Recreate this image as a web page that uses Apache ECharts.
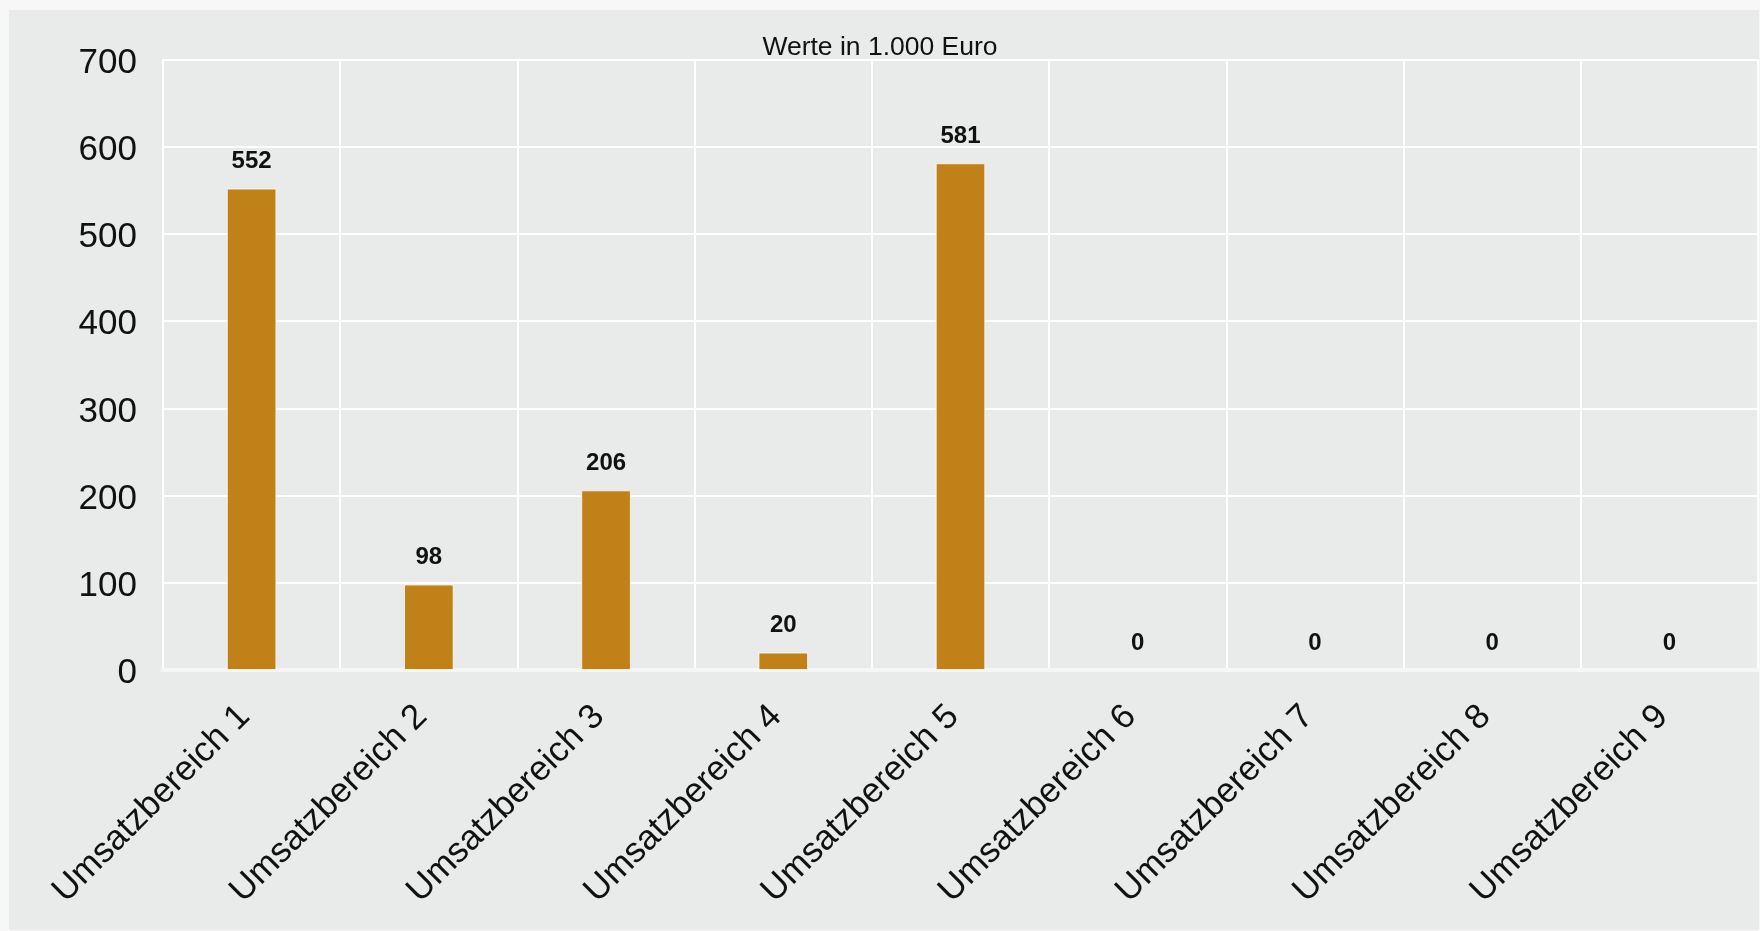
<!DOCTYPE html>
<html>
<head>
<meta charset="utf-8">
<style>
html,body{margin:0;padding:0;background:#f7f7f7;}
#c{width:1760px;height:931px;}
</style>
<script src="https://cdn.jsdelivr.net/npm/echarts@6/dist/echarts.min.js"></script>
</head>
<body>
<div id="c"></div>
<script>
const categories = ["Umsatzbereich 1","Umsatzbereich 2","Umsatzbereich 3","Umsatzbereich 4","Umsatzbereich 5","Umsatzbereich 6","Umsatzbereich 7","Umsatzbereich 8","Umsatzbereich 9"];
const values = [552, 98, 206, 20, 581, 0, 0, 0, 0];
const titleText = "Werte in 1.000 Euro";

const FONT = "'Liberation Sans', Arial, Helvetica, sans-serif";
const chart = echarts.init(document.getElementById('c'), null, {renderer:'canvas'});
const barData = values.map(v => ({
  value: v,
  itemStyle: v === 0 ? {borderWidth:0} : {}
}));
chart.setOption({
  backgroundColor: '#f7f7f7',
  animation: false,
  graphic: [
    {type:'rect', z:-10, silent:true, shape:{x:9,y:10,width:1750,height:920}, style:{fill:'#e9eaea'}},
    {type:'text', z:10, x:880, y:47.5, style:{text:titleText, font:'26.5px '+FONT, fill:'#111', align:'center', verticalAlign:'middle'}}
  ],
  grid: {left:163, top:59.5, right:2, bottom:261, containLabel:false},
  xAxis: {
    type:'category',
    data: categories,
    boundaryGap: true,
    axisLine: {show:true, lineStyle:{color:'#f6f6f6', width:4}},
    axisTick: {show:false},
    splitLine: {show:true, lineStyle:{color:'#ffffff', width:2}},
    axisLabel: {rotate:45, margin:34, fontSize:35, color:'#111', fontFamily:FONT, interval:0, padding:[0,10,14,0]}
  },
  yAxis: {
    type:'value',
    min:0, max:700, interval:100,
    axisLine:{show:false},
    axisTick:{show:false},
    splitLine:{show:true, lineStyle:{color:'#ffffff', width:2}},
    axisLabel:{fontSize:35, color:'#111', fontFamily:FONT, margin:26, verticalAlign:'top', lineHeight:7}
  },
  series: [{
    type:'bar',
    data: barData,
    barWidth: '28%',
    itemStyle: {color:'#bf8118', borderColor:'rgba(255,255,255,0.75)', borderWidth:1},
    label: {show:true, position:'top', distance:15, fontSize:24, fontWeight:'bold', color:'#111', fontFamily:FONT}
  }]
});
</script>
</body>
</html>
